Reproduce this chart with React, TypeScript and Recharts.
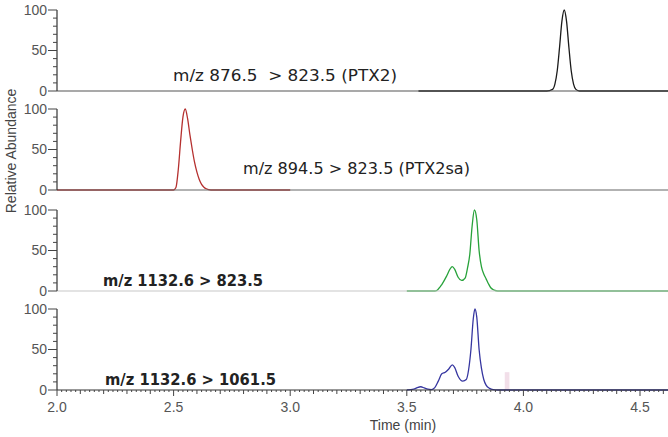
import React from 'react';
import { LineChart, Line, XAxis, YAxis, ReferenceArea } from 'recharts';

// retention time (min) / relative abundance (%)
const PTX2_TIME = [3.55, 4.1, 4.125, 4.135, 4.145, 4.155, 4.165, 4.175, 4.185, 4.195, 4.205, 4.215, 4.225, 4.24, 4.62];
const PTX2_ABUND = [0, 0, 2, 8.5, 25, 54, 86, 100, 86, 54, 25, 8.5, 2, 0, 0];

const PTX2SA_TIME = [2.0, 2.5, 2.51, 2.52, 2.53, 2.54, 2.55, 2.56, 2.57, 2.58, 2.59, 2.6, 2.61, 2.62, 2.63, 2.64, 2.66, 3.0];
const PTX2SA_ABUND = [0, 0, 3, 25, 60, 90, 100, 88, 68, 50, 34, 22, 13, 7, 3.5, 1.5, 0, 0];

const MZ823_TIME = [3.5, 3.62, 3.63, 3.65, 3.67, 3.685, 3.695, 3.705, 3.72, 3.735, 3.75, 3.76, 3.77, 3.78, 3.79, 3.8, 3.81, 3.82, 3.83, 3.84, 3.85, 3.86, 3.875, 3.89, 4.62];
const MZ823_ABUND = [0, 0, 1, 8, 18, 27, 30, 27, 17, 13, 16, 28, 45, 80, 100, 88, 50, 30, 21, 15, 9, 4, 1, 0, 0];

const MZ1061_TIME = [3.5, 3.53, 3.545, 3.56, 3.575, 3.59, 3.605, 3.62, 3.635, 3.65, 3.665, 3.68, 3.695, 3.705, 3.72, 3.74, 3.755, 3.765, 3.775, 3.785, 3.792, 3.8, 3.81, 3.82, 3.83, 3.84, 3.855, 3.87, 3.89, 4.62];
const MZ1061_ABUND = [0, 1, 3, 4, 2.5, 1, 0.5, 3, 11, 20, 22, 26, 31, 28, 17, 11, 13, 25, 50, 88, 100, 90, 50, 27, 13, 6, 2, 0.5, 0, 0];

const PANEL_LABELS = [
  'm/z 876.5  > 823.5 (PTX2)',
  'm/z 894.5 > 823.5 (PTX2sa)',
  'm/z 1132.6 > 823.5',
  'm/z 1132.6 > 1061.5',
];

const Y_TICKS = [0, 10, 20, 30, 40, 50, 60, 70, 80, 90, 100];
const Y_LABELED = [0, 50, 100];
const X_LABELED = [2.0, 2.5, 3.0, 3.5, 4.0, 4.5];
const X_TICKS = Array.from({ length: 131 }, (_, i) => +(2 + i * 0.02).toFixed(2));

const zip = (t: number[], v: number[]) => t.map((x, i) => ({ t: x, v: v[i] }));

const W = 668;
const PLOT_H = 81;
const PAD = 10;

const YTick = (props: any) => {
  const { x, y, payload } = props;
  const major = Y_LABELED.includes(payload.value);
  const len = major ? 9 : 4;
  return (
    <g>
      <line x1={x - len} x2={x} y1={y} y2={y} stroke="#444" strokeWidth={1} />
      {major && (
        <text x={x - len - 1} y={y} dy={4.5} textAnchor="end" fontSize={14} fill="#555" fontFamily="Liberation Sans, Arial, sans-serif">
          {payload.value}
        </text>
      )}
    </g>
  );
};

const XTick = (props: any) => {
  const { x, y, payload } = props;
  const k = Math.round(payload.value * 50);
  const major = k % 25 === 0;
  const mid = k % 5 === 0;
  const len = major ? 6 : mid ? 4 : 2;
  const lbl = X_LABELED.find((v) => Math.abs(v - payload.value) < 1e-6);
  return (
    <g>
      <line x1={x} x2={x} y1={y} y2={y + len} stroke="#444" strokeWidth={1} />
      {lbl !== undefined && (
        <text x={x} y={y + 22} textAnchor="middle" fontSize={14} fill="#555" fontFamily="Liberation Sans, Arial, sans-serif">
          {lbl.toFixed(1)}
        </text>
      )}
    </g>
  );
};

interface PanelProps {
  data: { t: number; v: number }[];
  color: string;
  top: number;
  baseColor: string;
  showX?: boolean;
  children?: React.ReactNode;
}

function Panel({ data, color, top, baseColor, showX, children }: PanelProps) {
  const xh = showX ? 46 : 1;
  const bottom = showX ? 0 : PAD;
  return (
    <div style={{ position: 'absolute', left: 0, top: top - PAD }}>
      <LineChart width={W} height={PLOT_H + PAD + bottom + xh} margin={{ top: PAD, right: 0, left: 0, bottom }}>
        <XAxis
          type="number"
          dataKey="t"
          domain={[2, 4.62]}
          ticks={X_TICKS}
          interval={0}
          height={xh}
          tickSize={0}
          tickMargin={0}
          tickLine={false}
          tick={showX ? XTick : false}
          axisLine={{ stroke: baseColor, strokeWidth: 1.2 }}
          allowDataOverflow
        />
        <YAxis
          type="number"
          domain={[0, 100]}
          ticks={Y_TICKS}
          interval={0}
          width={57}
          tickSize={0}
          tickMargin={0}
          tickLine={false}
          tick={YTick}
          axisLine={{ stroke: '#333', strokeWidth: 1.2 }}
        />
        {children}
        <Line
          data={data}
          dataKey="v"
          type="monotone"
          stroke={color}
          strokeWidth={1.3}
          dot={false}
          activeDot={false}
          isAnimationActive={false}
        />
      </LineChart>
    </div>
  );
}

export default function App() {
  const font = 'DejaVu Sans, Verdana, sans-serif';
  return (
    <div style={{ position: 'absolute', left: 0, top: 0, width: W, height: 437, background: '#fff', overflow: 'hidden' }}>
      <Panel data={zip(PTX2_TIME, PTX2_ABUND)} color="#1a1a1a" top={10} baseColor="#555" />
      <Panel data={zip(PTX2SA_TIME, PTX2SA_ABUND)} color="#b5302f" top={109} baseColor="#666" />
      <Panel data={zip(MZ823_TIME, MZ823_ABUND)} color="#27a23a" top={210} baseColor="#c8c8c8" />
      <Panel data={zip(MZ1061_TIME, MZ1061_ABUND)} color="#3636a0" top={309} baseColor="#333" showX>
        <ReferenceArea x1={3.92} x2={3.94} y1={0} y2={22} fill="#f2dfe9" fillOpacity={1} stroke="none" />
      </Panel>
      <svg width={W} height={437} style={{ position: 'absolute', left: 0, top: 0, pointerEvents: 'none' }}>
        <text x={173} y={81} fontSize={15} fontFamily={font} fill="#222" textLength={224} lengthAdjust="spacingAndGlyphs" style={{ whiteSpace: 'pre' }}>
          {PANEL_LABELS[0]}
        </text>
        <text x={243} y={174} fontSize={15} fontFamily={font} fill="#222" textLength={227} lengthAdjust="spacingAndGlyphs">
          {PANEL_LABELS[1]}
        </text>
        <text x={103} y={286} fontSize={15} fontWeight="bold" fontFamily={font} fill="#222" textLength={160} lengthAdjust="spacingAndGlyphs">
          {PANEL_LABELS[2]}
        </text>
        <text x={105} y={385} fontSize={15} fontWeight="bold" fontFamily={font} fill="#222" textLength={171} lengthAdjust="spacingAndGlyphs">
          {PANEL_LABELS[3]}
        </text>
        <text x={16} y={151} transform="rotate(-90 16 151)" textAnchor="middle" fontSize={14} fontFamily="Liberation Sans, Arial, sans-serif" fill="#444">
          Relative Abundance
        </text>
        <text x={403} y={430} textAnchor="middle" fontSize={14} fontFamily="Liberation Sans, Arial, sans-serif" fill="#444">
          Time (min)
        </text>
      </svg>
    </div>
  );
}
